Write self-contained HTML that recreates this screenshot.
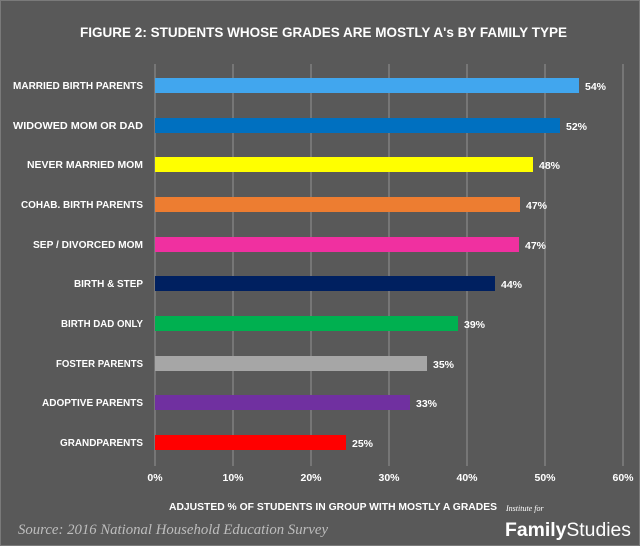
<!DOCTYPE html>
<html><head><style>
body{margin:0;background:#595959;}
svg{display:block}
text{font-family:"Liberation Sans",sans-serif;fill:#fff;font-weight:bold}
text.src{font-family:"Liberation Serif",serif;font-style:italic;font-weight:normal;fill:#bdbdbd}
</style></head><body>
<svg width="640" height="546" xmlns="http://www.w3.org/2000/svg">
<rect x="0" y="0" width="640" height="546" fill="#595959"/>
<rect x="0.5" y="0.5" width="639" height="545" fill="none" stroke="#7a7a7a"/>
<text x="80" y="37" font-size="13.5" textLength="487" lengthAdjust="spacingAndGlyphs">FIGURE 2: STUDENTS WHOSE GRADES ARE MOSTLY A's BY FAMILY TYPE</text>
<g stroke="#8a8a8a" stroke-width="1.2">
<line x1="155" y1="64" x2="155" y2="466"/>
<line x1="233" y1="64" x2="233" y2="466"/>
<line x1="311" y1="64" x2="311" y2="466"/>
<line x1="389" y1="64" x2="389" y2="466"/>
<line x1="467" y1="64" x2="467" y2="466"/>
<line x1="545" y1="64" x2="545" y2="466"/>
<line x1="623" y1="64" x2="623" y2="466"/>
</g>
<g font-size="10.5" lengthAdjust="spacingAndGlyphs">
<text x="13" y="89" textLength="130" lengthAdjust="spacingAndGlyphs">MARRIED BIRTH PARENTS</text>
<text x="13" y="129" textLength="130" lengthAdjust="spacingAndGlyphs">WIDOWED MOM OR DAD</text>
<text x="27" y="168" textLength="116" lengthAdjust="spacingAndGlyphs">NEVER MARRIED MOM</text>
<text x="21" y="208" textLength="122" lengthAdjust="spacingAndGlyphs">COHAB. BIRTH PARENTS</text>
<text x="33" y="248" textLength="110" lengthAdjust="spacingAndGlyphs">SEP / DIVORCED MOM</text>
<text x="74" y="287" textLength="69" lengthAdjust="spacingAndGlyphs">BIRTH &amp; STEP</text>
<text x="61" y="327" textLength="82" lengthAdjust="spacingAndGlyphs">BIRTH DAD ONLY</text>
<text x="56" y="367" textLength="87" lengthAdjust="spacingAndGlyphs">FOSTER PARENTS</text>
<text x="42" y="406" textLength="101" lengthAdjust="spacingAndGlyphs">ADOPTIVE PARENTS</text>
<text x="60" y="446" textLength="83" lengthAdjust="spacingAndGlyphs">GRANDPARENTS</text>
</g>
<rect x="155" y="78" width="424" height="15" fill="#41a6ee"/>
<rect x="155" y="118" width="405" height="15" fill="#0070c0"/>
<rect x="155" y="157" width="378" height="15" fill="#ffff00"/>
<rect x="155" y="197" width="365" height="15" fill="#ed7d31"/>
<rect x="155" y="237" width="364" height="15" fill="#f030a0"/>
<rect x="155" y="276" width="340" height="15" fill="#002060"/>
<rect x="155" y="316" width="303" height="15" fill="#00b050"/>
<rect x="155" y="356" width="272" height="15" fill="#a6a6a6"/>
<rect x="155" y="395" width="255" height="15" fill="#7030a0"/>
<rect x="155" y="435" width="191" height="15" fill="#ff0000"/>
<g font-size="10.5">
<text x="585" y="90">54%</text>
<text x="566" y="130">52%</text>
<text x="539" y="169">48%</text>
<text x="526" y="209">47%</text>
<text x="525" y="249">47%</text>
<text x="501" y="288">44%</text>
<text x="464" y="328">39%</text>
<text x="433" y="368">35%</text>
<text x="416" y="407">33%</text>
<text x="352" y="447">25%</text>
</g>
<g font-size="10.5" text-anchor="middle">
<text x="155" y="481">0%</text>
<text x="233" y="481">10%</text>
<text x="311" y="481">20%</text>
<text x="389" y="481">30%</text>
<text x="467" y="481">40%</text>
<text x="545" y="481">50%</text>
<text x="623" y="481">60%</text>
</g>
<text x="169" y="510" font-size="10.5" textLength="328" lengthAdjust="spacingAndGlyphs">ADJUSTED % OF STUDENTS IN GROUP WITH MOSTLY A GRADES</text>
<text class="src" x="18" y="534" font-size="15" textLength="310" lengthAdjust="spacingAndGlyphs">Source: 2016 National Household Education Survey</text>
<text class="src" x="506" y="511" font-size="8" style="fill:#fff">Institute for</text>
<text x="505" y="536" font-size="19" textLength="126" lengthAdjust="spacingAndGlyphs">Family<tspan style="font-weight:normal">Studies</tspan></text>
</svg>
</body></html>
